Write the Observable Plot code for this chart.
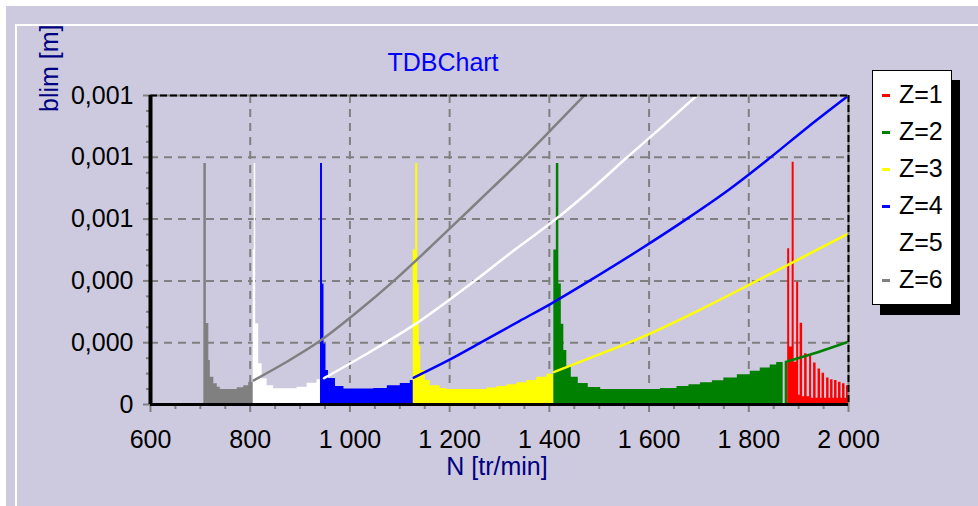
<!DOCTYPE html>
<html><head><meta charset="utf-8">
<script src="https://cdn.jsdelivr.net/npm/d3@7"></script>
<script src="https://cdn.jsdelivr.net/npm/@observablehq/plot@0.6"></script>
<style>
html,body{margin:0;padding:0;background:#fff;}
#wrap{position:relative;width:978px;height:506px;overflow:hidden;font-family:"Liberation Sans",Arial,sans-serif;}
#bg{position:absolute;left:6px;top:6px;right:0;bottom:0;background:#cdcadf;}
#bevel{position:absolute;left:15px;top:24px;right:-10px;bottom:-10px;border-left:2px solid #fff;border-top:2px solid #fff;overflow:hidden;}
#ylab{position:absolute;left:0;top:0;transform-origin:0 0;transform:translate(20px,86px) rotate(-90deg);font-size:25px;line-height:1;white-space:nowrap;color:#000080;}
#chart{position:absolute;left:0;top:0;}
#title{position:absolute;left:343px;width:200px;text-align:center;top:50px;font-size:25px;line-height:1;color:#0000ff;}
#xlab{position:absolute;left:397px;width:200px;text-align:center;top:454px;font-size:25px;line-height:1;color:#000080;}
#legend{position:absolute;left:872px;top:70px;width:78px;height:228px;background:#fff;border:1px solid #000;box-shadow:8px 10px 0 #000;padding-top:4.5px;box-sizing:content-box;}
#legend .row{height:37px;line-height:37px;font-size:25px;white-space:nowrap;color:#000;}
#legend .sym{display:inline-block;width:8px;height:3px;margin-left:9px;margin-right:9px;vertical-align:middle;}
</style></head><body>
<div id="wrap">
  <div id="bg"></div>
  <div id="bevel"><span id="ylab">blim [m]</span></div>
  <div id="chart"></div>
  <div id="title">TDBChart</div>
  <div id="xlab">N [tr/min]</div>
  <div id="legend"></div>
</div>
<script>
// ---- data: [N (tr/min), blim (m)] ----
const z6Area = [[707,0.00078],[712,0.000262],[717,0.000142],[720,0.000088],[727,0.000067],[734,0.000056],[740,0.0000485],[774,0.000054],[787,0.000061],[797,0.000072],[807,0.000072]];
const z5Area = [[806,0.0005],[808,0.00078],[811,0.000261],[817,0.000132],[824,0.000083],[834,0.000061],[847,0.000051],[894,0.000056],[914,0.000069],[934,0.00008],[948,0.00008]];
const z4Area = [[941,0.00078],[945,0.00039],[948,0.000196],[952,0.00011],[957,0.000084],[971,0.000058],[988,0.00005],[1048,0.000052],[1075,0.000061],[1101,0.000068],[1121,0.000078],[1128,0.000078]];
const z3Area = [[1127,0.0005],[1132,0.00078],[1136,0.00039],[1139,0.00019],[1142,0.00011],[1151,0.000078],[1161,0.000061],[1181,0.000052],[1195,0.0000485],[1275,0.000053],[1295,0.000058],[1315,0.000064],[1335,0.00007],[1355,0.000078],[1375,0.000088],[1395,0.000098],[1409,0.000098]];
const z2Area = [[1409,0.0005],[1414,0.00078],[1419,0.00039],[1424,0.00026],[1429,0.000175],[1435,0.00012],[1444,0.000088],[1458,0.000068],[1478,0.000055],[1503,0.0000485],[1623,0.000052],[1656,0.000058],[1680,0.000064],[1703,0.00007],[1727,0.000077],[1750,0.000086],[1777,0.000096],[1803,0.000108],[1823,0.000118],[1843,0.000128],[1856,0.000136],[1869,0],[1873,0.00014],[1878,0.00014]];
const z1Area = [[1878,0.000504],[1882,0.000186],[1887,0.000784],[1891,0.000137],[1896,0.000396],[1900,0.00003],[1903,0.000263],[1908,0.000025],[1912,0.000164],[1917,0.000025],[1922,0.000159],[1926,0.00002],[1930,0.000134],[1935,0.00002],[1939,0.000115],[1944,0.00002],[1947,0.000101],[1952,0.00002],[1956,0.000086],[1961,0.00002],[1964,0.00008],[1969,0.00002],[1972,0.000078],[1977,0.00002],[1980,0.000072],[1985,0.00002],[1988,0.000067],[1993,0.00002],[1996,0.000061],[2000,0.000061]];

const z6Line = [[807,0.000078],[870,0.000135],[941,0.000207],[1015,0.0003],[1088,0.0004],[1155,0.0005],[1220,0.0006],[1285,0.0007],[1349,0.0008],[1410,0.0009],[1470,0.001]];
const z5Line = [[948,0.000085],[1040,0.00017],[1131,0.00026],[1250,0.0004],[1330,0.0005],[1413,0.0006],[1487,0.0007],[1556,0.0008],[1627,0.0009],[1696,0.001]];
const z4Line = [[1128,0.000087],[1200,0.000145],[1262,0.0002],[1340,0.00027],[1402,0.000325],[1480,0.0004],[1580,0.0005],[1675,0.0006],[1760,0.000695],[1840,0.000795],[1920,0.0009],[2000,0.001]];
const z3Line = [[1409,0.000105],[1500,0.000162],[1600,0.000228],[1700,0.000305],[1810,0.000395],[1900,0.00047],[2000,0.000553]];
const z2Line = [[1878,0.00014],[1940,0.00017],[2000,0.000203]];

const seriesNames = ["Z=1","Z=2","Z=3","Z=4","Z=5","Z=6"];
const seriesColors = ["#ff0000","#008000","#ffff00","#0000ff","#ffffff","#808080"];

const xTicks = [600,800,1000,1200,1400,1600,1800,2000];
const xTickLabels = ["600","800","1 000","1 200","1 400","1 600","1 800","2 000"];
const xGrid = [800,1000,1200,1400,1600,1800];
const yTicks = [0,0.0002,0.0004,0.0006,0.0008,0.001];
const yTickLabels = ["0","0,000","0,000","0,001","0,001","0,001"];
const yGrid = [0.0002,0.0004,0.0006,0.0008];

// ---- build ----
const xMinor = d3.range(650, 2000, 50).filter(v => v % 200 !== 0);
const yMinor = d3.range(0, 20).map(i => i * 0.00005).filter((v, i) => i % 4 !== 0);
const xLab = new Map(xTicks.map((t, i) => [t, xTickLabels[i]]));
const yLab = new Map(yTicks.map((t, i) => [t, yTickLabels[i]]));

const areaList = [[z6Area,5],[z5Area,4],[z4Area,3],[z3Area,2],[z2Area,1],[z1Area,0]];
const lineList = [[z6Line,5],[z5Line,4],[z4Line,3],[z3Line,2],[z2Line,1]];
const X = d => d[0], Y = d => d[1];

const chart = Plot.plot({
  width: 978, height: 506,
  marginLeft: 150, marginRight: 130, marginTop: 95, marginBottom: 102,
  style: {background: "transparent", fontFamily: "Liberation Sans, Arial, sans-serif", fontSize: "25px", color: "black", overflow: "visible"},
  x: {domain: [600, 2000], axis: null},
  y: {domain: [0, 0.001], axis: null},
  marks: [
    Plot.gridX(xGrid, {stroke: "#808080", strokeOpacity: 1, strokeWidth: 2, strokeDasharray: "8,6"}),
    Plot.gridY(yGrid, {stroke: "#808080", strokeOpacity: 1, strokeWidth: 2, strokeDasharray: "8,6"}),
    ...areaList.map(([a, k]) => Plot.areaY(a, {x: X, y: Y, fill: seriesColors[k], curve: "step-after"})),
    ...lineList.map(([l, k]) => Plot.line(l, {x: X, y: Y, stroke: seriesColors[k], strokeWidth: 2.5, curve: "monotone-x", clip: true})),
    Plot.ruleY([0.001], {stroke: "#808080", strokeWidth: 2}),
    Plot.ruleY([0.001], {stroke: "black", strokeWidth: 2, strokeDasharray: "7,3"}),
    Plot.ruleX([2000], {stroke: "#808080", strokeWidth: 2}),
    Plot.ruleX([2000], {stroke: "black", strokeWidth: 2, strokeDasharray: "7,3"}),
    Plot.axisX(xTicks, {tickSize: 8, tickPadding: 18, tickFormat: d => xLab.get(d), stroke: "#808080", strokeWidth: 2, fill: "black", label: null}),
    Plot.axisX(xMinor, {tickSize: 5, tickFormat: () => "", stroke: "#808080", strokeWidth: 2, label: null}),
    Plot.axisY(yTicks, {tickSize: 7, tickPadding: 10, tickFormat: d => yLab.get(d), stroke: "#808080", strokeWidth: 2, fill: "black", label: null}),
    Plot.axisY(yMinor, {tickSize: 4, tickFormat: () => "", stroke: "#808080", strokeWidth: 2, label: null}),
    Plot.ruleX([600], {stroke: "black", strokeWidth: 4}),
    Plot.ruleY([0], {stroke: "black", strokeWidth: 3})
  ]
});
document.getElementById("chart").appendChild(chart);

const legend = document.getElementById("legend");
seriesNames.forEach((name, i) => {
  const row = document.createElement("div");
  row.className = "row";
  const sym = document.createElement("span");
  sym.className = "sym";
  sym.style.background = seriesColors[i];
  row.appendChild(sym);
  row.appendChild(document.createTextNode(name));
  legend.appendChild(row);
});
</script>
</body></html>
